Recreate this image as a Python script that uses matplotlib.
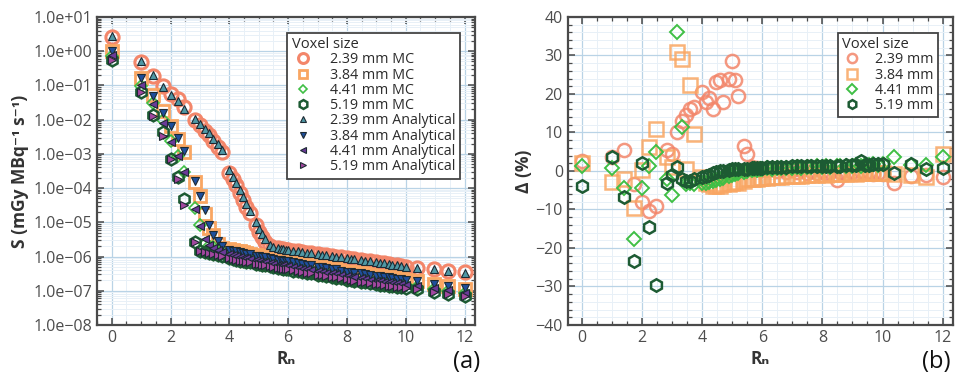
import matplotlib
matplotlib.use("Agg")
import matplotlib.pyplot as plt
from matplotlib.ticker import FixedLocator, MultipleLocator, FuncFormatter, LogLocator, NullFormatter

plt.rcParams['font.family'] = ['Open Sans', 'DejaVu Sans']

# ---------------- data ----------------
Rn = [0, 1, 1.41, 1.73, 2, 2.24, 2.45, 2.83, 3, 3.16, 3.32, 3.46, 3.61, 3.74,
      4, 4.12, 4.24, 4.36, 4.47, 4.58, 4.69, 4.9, 5, 5.1, 5.2, 5.39, 5.48,
      5.66, 5.74, 5.83, 5.92, 6, 6.16, 6.32, 6.48, 6.63, 6.78,
      7, 7.14, 7.28, 7.48, 7.62, 7.81, 8, 8.12, 8.25, 8.49, 8.6, 8.77,
      9, 9.11, 9.27, 9.43, 9.54, 9.7, 9.85, 10, 10.39, 10.95, 11.45, 12]

voxel_labels = ["2.39 mm", "3.84 mm", "4.41 mm", "5.19 mm"]

A239 = [2.7, 0.50, 0.20, 0.092, 0.053, 0.035, 0.021, 0.0105, 0.0074, 0.0053, 0.0040, 0.0028, 0.0019, 0.0013,
        3.4e-4, 2.1e-4, 1.4e-4, 8.5e-5, 5.5e-5, 3.5e-5, 2.2e-5, 1.0e-5, 6.5e-6, 4.5e-6, 3.2e-6, 2.2e-6, 1.9e-6,
        1.75e-6, 1.7e-6, 1.65e-6, 1.6e-6, 1.55e-6, 1.5e-6, 1.43e-6, 1.37e-6, 1.31e-6, 1.26e-6,
        1.18e-6, 1.13e-6, 1.09e-6, 1.03e-6, 9.9e-7, 9.4e-7, 8.9e-7, 8.6e-7, 8.3e-7, 7.8e-7, 7.6e-7, 7.2e-7,
        6.8e-7, 6.6e-7, 6.3e-7, 6.0e-7, 5.8e-7, 5.6e-7, 5.3e-7, 5.1e-7, 4.6e-7, 4.2e-7, 3.7e-7, 3.4e-7]
MC239 = [2.6, 0.48, 0.19, 0.095, 0.058, 0.039, 0.023, 0.0100, 0.0071, 0.0048, 0.0035, 0.0024, 0.0016, 0.0011,
         2.8e-4, 1.8e-4, 1.2e-4, 7.3e-5, 4.5e-5, 2.8e-5, 1.9e-5, 8.1e-6, 5.1e-6, 3.6e-6, 2.7e-6, 2.1e-6, 1.8e-6,
         1.73e-6, 1.69e-6, 1.64e-6, 1.6e-6, 1.54e-6, 1.5e-6, 1.42e-6, 1.37e-6, 1.3e-6, 1.26e-6,
         1.18e-6, 1.13e-6, 1.09e-6, 1.03e-6, 9.9e-7, 9.5e-7, 8.9e-7, 8.7e-7, 8.3e-7, 8.0e-7, 7.6e-7, 7.3e-7,
         6.8e-7, 6.6e-7, 6.3e-7, 6.0e-7, 5.8e-7, 5.6e-7, 5.3e-7, 5.1e-7, 4.7e-7, 4.3e-7, 3.7e-7, 3.5e-7]

A384 = [1.0, 0.16, 0.050, 0.016, 0.0066, 0.0029, 0.0012, 1.6e-4, 5.9e-5, 2.3e-5, 8.5e-6, 4.2e-6, 2.8e-6, 2.0e-6,
        1.6e-6, 1.5e-6, 1.42e-6, 1.35e-6, 1.28e-6, 1.22e-6, 1.16e-6, 1.06e-6, 1.02e-6, 9.8e-7, 9.4e-7, 8.8e-7, 8.5e-7,
        8.0e-7, 7.8e-7, 7.6e-7, 7.4e-7, 7.2e-7, 6.8e-7, 6.4e-7, 6.1e-7, 5.8e-7, 5.5e-7,
        5.1e-7, 4.9e-7, 4.7e-7, 4.4e-7, 4.2e-7, 3.9e-7, 3.6e-7, 3.5e-7, 3.4e-7, 3.2e-7, 3.1e-7, 2.95e-7,
        2.75e-7, 2.65e-7, 2.55e-7, 2.45e-7, 2.38e-7, 2.28e-7, 2.2e-7, 2.1e-7, 1.9e-7, 1.6e-7, 1.4e-7, 1.2e-7]
MC384 = [0.98, 0.165, 0.051, 0.0177, 0.0066, 0.0027, 0.0011, 1.55e-4, 5.8e-5, 1.75e-5, 6.6e-6, 4.2e-6, 2.3e-6, 1.8e-6,
         1.62e-6, 1.55e-6, 1.47e-6, 1.41e-6, 1.33e-6, 1.27e-6, 1.2e-6, 1.1e-6, 1.05e-6, 1.01e-6, 9.7e-7, 9.0e-7, 8.7e-7,
         8.2e-7, 8.0e-7, 7.8e-7, 7.5e-7, 7.3e-7, 6.9e-7, 6.5e-7, 6.2e-7, 5.9e-7, 5.6e-7,
         5.2e-7, 5.0e-7, 4.8e-7, 4.5e-7, 4.2e-7, 3.9e-7, 3.6e-7, 3.5e-7, 3.4e-7, 3.2e-7, 3.1e-7, 2.97e-7,
         2.77e-7, 2.67e-7, 2.56e-7, 2.46e-7, 2.39e-7, 2.29e-7, 2.21e-7, 2.11e-7, 1.92e-7, 1.62e-7, 1.42e-7, 1.15e-7]

A441 = [0.75, 0.10, 0.029, 0.0078, 0.0022, 8.7e-4, 3.0e-4, 2.5e-5, 7.7e-6, 3.3e-6, 2.2e-6, 1.8e-6, 1.55e-6, 1.38e-6,
        1.15e-6, 1.08e-6, 1.02e-6, 9.7e-7, 9.2e-7, 8.8e-7, 8.4e-7, 7.7e-7, 7.4e-7, 7.1e-7, 6.8e-7, 6.4e-7, 6.2e-7,
        5.8e-7, 5.6e-7, 5.5e-7, 5.3e-7, 5.2e-7, 4.9e-7, 4.6e-7, 4.4e-7, 4.2e-7, 4.0e-7,
        3.7e-7, 3.55e-7, 3.4e-7, 3.2e-7, 3.05e-7, 2.85e-7, 2.65e-7, 2.55e-7, 2.45e-7, 2.3e-7, 2.22e-7, 2.12e-7,
        1.98e-7, 1.92e-7, 1.84e-7, 1.76e-7, 1.71e-7, 1.64e-7, 1.58e-7, 1.52e-7, 1.38e-7, 1.18e-7, 1.02e-7, 8.8e-8]
MC441 = [0.74, 0.099, 0.030, 0.0095, 0.0023, 8.6e-4, 2.9e-4, 2.55e-5, 8.2e-6, 2.4e-6, 2.0e-6, 1.87e-6, 1.6e-6, 1.43e-6,
         1.19e-6, 1.12e-6, 1.05e-6, 9.9e-7, 9.4e-7, 9.0e-7, 8.6e-7, 7.8e-7, 7.5e-7, 7.2e-7, 6.8e-7, 6.4e-7, 6.2e-7,
         5.8e-7, 5.6e-7, 5.5e-7, 5.3e-7, 5.2e-7, 4.9e-7, 4.6e-7, 4.4e-7, 4.2e-7, 4.0e-7,
         3.7e-7, 3.5e-7, 3.4e-7, 3.2e-7, 3.0e-7, 2.8e-7, 2.6e-7, 2.5e-7, 2.4e-7, 2.3e-7, 2.2e-7, 2.1e-7,
         1.95e-7, 1.9e-7, 1.81e-7, 1.74e-7, 1.68e-7, 1.62e-7, 1.56e-7, 1.5e-7, 1.33e-7, 1.16e-7, 1.0e-7, 8.5e-8]

A519 = [0.55, 0.065, 0.013, 0.0034, 7.0e-4, 1.8e-4, 3.3e-5, 2.6e-6, 1.5e-6, 1.35e-6, 1.25e-6, 1.17e-6, 1.1e-6, 1.03e-6,
        8.8e-7, 8.4e-7, 8.0e-7, 7.6e-7, 7.3e-7, 7.0e-7, 6.7e-7, 6.2e-7, 6.0e-7, 5.8e-7, 5.6e-7, 5.2e-7, 5.0e-7,
        4.7e-7, 4.6e-7, 4.45e-7, 4.3e-7, 4.2e-7, 3.95e-7, 3.75e-7, 3.55e-7, 3.35e-7, 3.2e-7,
        2.95e-7, 2.8e-7, 2.7e-7, 2.55e-7, 2.45e-7, 2.3e-7, 2.15e-7, 2.07e-7, 1.98e-7, 1.85e-7, 1.78e-7, 1.7e-7,
        1.58e-7, 1.53e-7, 1.47e-7, 1.41e-7, 1.37e-7, 1.32e-7, 1.27e-7, 1.22e-7, 1.1e-7, 9.5e-8, 8.2e-8, 7.0e-8]
MC519 = [0.57, 0.063, 0.014, 0.0044, 6.9e-4, 2.1e-4, 4.7e-5, 2.7e-6, 1.5e-6, 1.34e-6, 1.28e-6, 1.2e-6, 1.13e-6, 1.05e-6,
         8.9e-7, 8.5e-7, 8.1e-7, 7.6e-7, 7.3e-7, 7.0e-7, 6.7e-7, 6.2e-7, 6.0e-7, 5.8e-7, 5.6e-7, 5.2e-7, 5.0e-7,
         4.7e-7, 4.6e-7, 4.4e-7, 4.3e-7, 4.2e-7, 3.9e-7, 3.7e-7, 3.5e-7, 3.3e-7, 3.2e-7,
         2.9e-7, 2.8e-7, 2.7e-7, 2.5e-7, 2.4e-7, 2.3e-7, 2.1e-7, 2.0e-7, 1.95e-7, 1.82e-7, 1.75e-7, 1.67e-7,
         1.56e-7, 1.51e-7, 1.45e-7, 1.39e-7, 1.35e-7, 1.3e-7, 1.25e-7, 1.2e-7, 1.1e-7, 9.3e-8, 8.2e-8, 6.9e-8]

D239 = [2.5, 3.5, 5.5, -3.5, -8.0, -10.5, -9.0, 5.5, 4.5, 10.0, 13.0, 14.5, 16.0, 16.5,
        20.5, 18.0, 19.0, 16.0, 23.0, 23.5, 18.0, 24.0, 28.5, 23.5, 19.5, 6.5, 4.5,
        1.0, 0.5, 0.8, 0.3, 0.6, 0.2, 0.5, 0.0, 0.4, -0.2,
        0.3, -0.3, 0.2, -0.4, 0.1, -0.5, 0.0, -0.6, -0.2, -2.3, -0.3, -0.8,
        -0.2, -0.7, 0.0, -0.6, -0.3, -0.9, -0.4, -0.8, -3.0, -1.2, -1.0, -1.5]
D384 = [2.0, -2.8, -2.0, -9.7, 0.3, 6.3, 10.8, 3.5, 1.0, 31.0, 29.0, 0.5, 22.3, 9.5,
        -1.5, -3.0, -3.5, -4.0, -3.8, -4.0, -3.5, -3.5, -3.0, -2.8, -3.0, -2.5, -2.2,
        -2.2, -2.0, -2.1, -1.8, -1.9, -1.7, -1.6, -1.6, -1.5, -1.4,
        -1.3, -1.3, -1.2, -1.1, -1.1, -1.0, -0.9, -1.0, -0.8, -0.9, -0.7, -0.8,
        -0.6, -0.7, -0.5, -0.6, -0.6, -0.4, -0.5, -0.6, -0.8, -1.0, -1.5, 4.5]
D441 = [1.3, 0.7, -4.3, -17.7, -4.5, 1.4, 4.8, -2.0, -6.2, 36.0, 11.5, -3.5, -3.0, -3.5,
        -3.0, -3.2, -2.8, -2.5, -2.3, -2.0, -1.8, -1.3, -1.0, -0.8, -0.6, -0.3, 0.0,
        0.2, 0.4, 0.3, 0.6, 0.5, 0.7, 0.6, 0.8, 0.7, 0.9,
        0.8, 1.0, 0.9, 1.1, 1.0, 1.2, 1.0, 1.2, 1.1, 1.3, 1.2, 1.4,
        1.3, 1.5, 1.4, 1.6, 1.5, 1.7, 1.6, 1.8, 3.7, 1.5, 1.5, 3.6]
D519 = [-4.0, 3.7, -6.7, -23.5, 2.0, -14.5, -29.6, -3.0, -1.0, 1.0, -2.0, -2.5, -2.7, -2.0,
        -1.5, -1.2, -1.0, -0.5, -0.3, -0.1, 0.0, 0.2, 0.4, 0.5, 0.5, 0.6, 0.6,
        0.7, 0.8, 0.8, 0.9, 0.9, 1.0, 1.0, 1.0, 1.1, 1.1,
        1.2, 1.2, 1.2, 1.3, 1.3, 1.3, 1.3, 1.4, 1.4, 1.4, 1.4, 1.5,
        1.5, 1.5, 2.5, 1.6, 1.6, 1.7, 1.7, 1.7, -0.6, 1.7, 0.5, 0.7]

log_ticks = [1e1, 1e0, 1e-1, 1e-2, 1e-3, 1e-4, 1e-5, 1e-6, 1e-7, 1e-8]

# ---------------- styles ----------------
C_239 = '#f3866a'
C_384 = '#f9a662'
C_441 = '#3fbf45'
C_519 = '#1d5b33'
GRID_MAJ = '#b9d3e6'
GRID_MIN = '#e8f0f7'
SPINE = '#4a4a4a'
TICKLBL = '#4d4d4d'

fig = plt.figure(figsize=(9.69, 3.77), dpi=100)
axA = fig.add_axes([0.1001, 0.138, 0.390, 0.817])
axB = fig.add_axes([0.586, 0.138, 0.397, 0.817])


def style_axes(ax):
    for s in ax.spines.values():
        s.set_color(SPINE)
        s.set_linewidth(1.6)
    ax.tick_params(which='both', direction='in', top=True, right=True, color=SPINE,
                   labelcolor=TICKLBL, labelsize=11.5)
    ax.tick_params(which='major', length=5, width=1.1)
    ax.tick_params(which='minor', length=3, width=0.9)
    ax.grid(which='minor', color=GRID_MIN, linewidth=0.7, zorder=0)
    ax.grid(which='major', color=GRID_MAJ, linewidth=0.9, zorder=0)
    ax.set_axisbelow(True)


def style_legend(leg):
    leg.get_frame().set_linewidth(1.3)
    leg.set_zorder(10)
    for t in leg.get_texts():
        t.set_color('#2b2b2b')
    leg.get_title().set_color('#2b2b2b')


# ---------------- panel (a) ----------------
mc_specs = [(MC239, 'o', C_239, 9.5, 2.2), (MC384, 's', C_384, 8.5, 2.0),
            (MC441, 'D', C_441, 6.0, 1.2), (MC519, 'h', C_519, 8.5, 1.8)]
an_specs = [(A239, '^', '#4f98a5'), (A384, 'v', '#1f4f9c'),
            (A441, '<', '#6b3a99'), (A519, '>', '#a3479f')]

for (vals, m, c, ms, mew), lab in zip(mc_specs, voxel_labels):
    axA.plot(Rn, vals, linestyle='none', marker=m, ms=ms, mfc='none', mec=c, mew=mew,
             label=lab + ' MC', zorder=3)
for (vals, m, c), lab in zip(an_specs, voxel_labels):
    axA.plot(Rn, vals, linestyle='none', marker=m, ms=6.2, mfc=c, mec='#1d2a33', mew=0.8,
             label=lab + ' Analytical', zorder=4)

axA.set_yscale('log')
axA.set_ylim(1e-8, 1e1)
axA.set_xlim(-0.5, 12.35)
axA.yaxis.set_major_locator(FixedLocator(log_ticks))
axA.yaxis.set_minor_locator(LogLocator(base=10, subs=[2, 3, 4, 5, 6, 7, 8, 9], numticks=20))
axA.yaxis.set_minor_formatter(NullFormatter())
axA.yaxis.set_major_formatter(FuncFormatter(lambda v, p: f"{v:.1e}".replace('-', '\u2212')))
axA.xaxis.set_major_locator(MultipleLocator(2))
axA.xaxis.set_minor_locator(MultipleLocator(0.5))
style_axes(axA)
axA.set_xlabel('R\u2099', fontsize=12.5, fontweight='bold', color='#333333', labelpad=3)
axA.set_ylabel('S (mGy MBq\u207b\u00b9 s\u207b\u00b9)', fontsize=12.5, fontweight='bold',
               color='#333333', labelpad=3)

legA = axA.legend(title='Voxel size', loc='upper right', bbox_to_anchor=(0.98, 0.972),
                  fontsize=10.3, title_fontsize=10.5, frameon=True, fancybox=False,
                  edgecolor='#444444', framealpha=1, labelspacing=0.02, handlelength=1.6,
                  handletextpad=1.1, borderpad=0.3, markerscale=0.75, alignment='left')
style_legend(legA)

# ---------------- panel (b) ----------------
d_specs = [(D239, 'o', C_239, 9.5, 1.8, 0.85), (D384, 's', C_384, 9.5, 1.8, 0.85),
           (D441, 'D', C_441, 7.5, 1.4, 1.0), (D519, 'h', C_519, 9.0, 1.8, 1.0)]
for (vals, m, c, ms, mew, a), lab in zip(d_specs, voxel_labels):
    axB.plot(Rn, vals, linestyle='none', marker=m, ms=ms, mfc='none', mec=c, mew=mew,
             alpha=a, label=lab, zorder=3)

axB.set_ylim(-40, 40)
axB.set_xlim(-0.47, 12.33)
axB.yaxis.set_major_locator(MultipleLocator(10))
axB.yaxis.set_minor_locator(MultipleLocator(2))
axB.xaxis.set_major_locator(MultipleLocator(2))
axB.xaxis.set_minor_locator(MultipleLocator(0.5))
style_axes(axB)
axB.set_xlabel('R\u2099', fontsize=12.5, fontweight='bold', color='#333333', labelpad=3)
axB.set_ylabel('\u0394 (%)', fontsize=12.5, fontweight='bold', color='#333333', labelpad=2)

legB = axB.legend(title='Voxel size', loc='upper right', bbox_to_anchor=(0.98, 0.972),
                  fontsize=10.3, title_fontsize=10.5, frameon=True, fancybox=False,
                  edgecolor='#444444', framealpha=1, labelspacing=0.02, handlelength=1.4,
                  handletextpad=0.9, borderpad=0.3, markerscale=0.7, alignment='left')
style_legend(legB)

fig.text(453 / 969, 1 - 362 / 377, '(a)', fontsize=17, ha='left', va='center', color='#111111')
fig.text(922 / 969, 1 - 362 / 377, '(b)', fontsize=17, ha='left', va='center', color='#111111')

fig.savefig('out.png', dpi=100)
